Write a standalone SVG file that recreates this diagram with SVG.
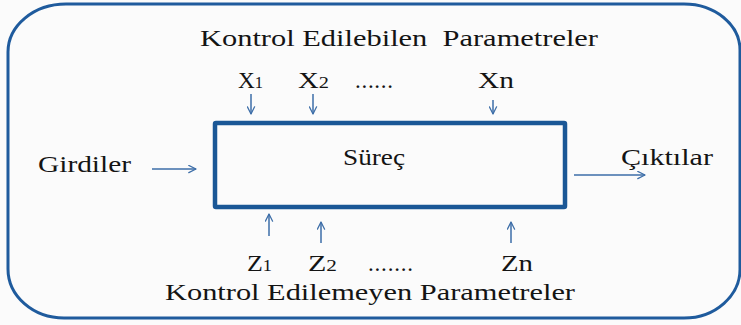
<svg xmlns="http://www.w3.org/2000/svg" width="741" height="325" viewBox="0 0 741 325">
  <defs>
    <marker id="head" viewBox="0 0 10 10" refX="9" refY="5" markerWidth="9" markerHeight="9" markerUnits="userSpaceOnUse" orient="auto">
      <path d="M1,1 L9,5 L1,9" fill="none" stroke="#3d6ea8" stroke-width="1.4" stroke-linecap="round" stroke-linejoin="round"/>
    </marker>
  </defs>
  <style>
    text { font-family: "Liberation Serif", "DejaVu Serif", serif; fill: #141414; font-size: 23px; }
    .var { font-size: 24px; }
    .sub { font-size: 17px; }
    .frame { fill: none; stroke: #1f5b9d; stroke-width: 3; }
    .box { fill: none; stroke: #1a5796; stroke-width: 4.5; }
    .arrow { fill: none; stroke: #3d6ea8; stroke-width: 1.5; marker-end: url(#head); }
  </style>

  <rect width="741" height="325" fill="#fbfbfb"/>

  <!-- outer rounded frame -->
  <path id="frame" class="frame" d="M8,52 A58,48 0 0 1 66,4 L684,4 A56,46 0 0 1 740,50 L740,268 A56,49 0 0 1 684,318 L64,318 A56,49 0 0 1 8,269 Z"/>

  <g id="title-controlled">
    <text x="200" y="46" textLength="398" lengthAdjust="spacingAndGlyphs" xml:space="preserve">Kontrol Edilebilen  Parametreler</text>
  </g>

  <g id="x-params">
    <text class="var" x="238" y="88" textLength="25" lengthAdjust="spacingAndGlyphs">X<tspan class="sub">1</tspan></text>
    <text class="var" x="298" y="88" textLength="31" lengthAdjust="spacingAndGlyphs">X<tspan class="sub">2</tspan></text>
    <text x="355" y="88" textLength="38" lengthAdjust="spacing">......</text>
    <text class="var" x="478" y="88" textLength="36" lengthAdjust="spacingAndGlyphs">Xn</text>
  </g>

  <g id="process">
    <rect class="box" x="215" y="123" width="350" height="84" rx="1"/>
    <text x="343" y="165" textLength="62" lengthAdjust="spacingAndGlyphs">Süreç</text>
  </g>

  <g id="inputs">
    <text x="38" y="172" textLength="93" lengthAdjust="spacingAndGlyphs">Girdiler</text>
  </g>

  <g id="outputs">
    <text x="621" y="165" textLength="92" lengthAdjust="spacingAndGlyphs">Çıktılar</text>
  </g>

  <g id="z-params">
    <text class="var" x="247" y="271" textLength="25" lengthAdjust="spacingAndGlyphs">Z<tspan class="sub">1</tspan></text>
    <text class="var" x="308" y="271" textLength="29" lengthAdjust="spacingAndGlyphs">Z<tspan class="sub">2</tspan></text>
    <text x="368" y="271" textLength="45" lengthAdjust="spacing">.......</text>
    <text class="var" x="501" y="271" textLength="32" lengthAdjust="spacingAndGlyphs">Zn</text>
  </g>

  <g id="title-uncontrolled">
    <text x="165" y="300" textLength="410" lengthAdjust="spacingAndGlyphs">Kontrol Edilemeyen Parametreler</text>
  </g>

  <g id="connectors">
    <line class="arrow" x1="251" y1="94" x2="251" y2="114"/>
    <line class="arrow" x1="313" y1="94" x2="313" y2="114"/>
    <line class="arrow" x1="493" y1="100" x2="493" y2="114"/>
    <line class="arrow" x1="152" y1="169" x2="196" y2="169"/>
    <line class="arrow" x1="574" y1="175" x2="645" y2="175"/>
    <line class="arrow" x1="269" y1="236" x2="269" y2="214"/>
    <line class="arrow" x1="321" y1="243" x2="321" y2="222"/>
    <line class="arrow" x1="511" y1="243" x2="511" y2="222"/>
  </g>
</svg>
